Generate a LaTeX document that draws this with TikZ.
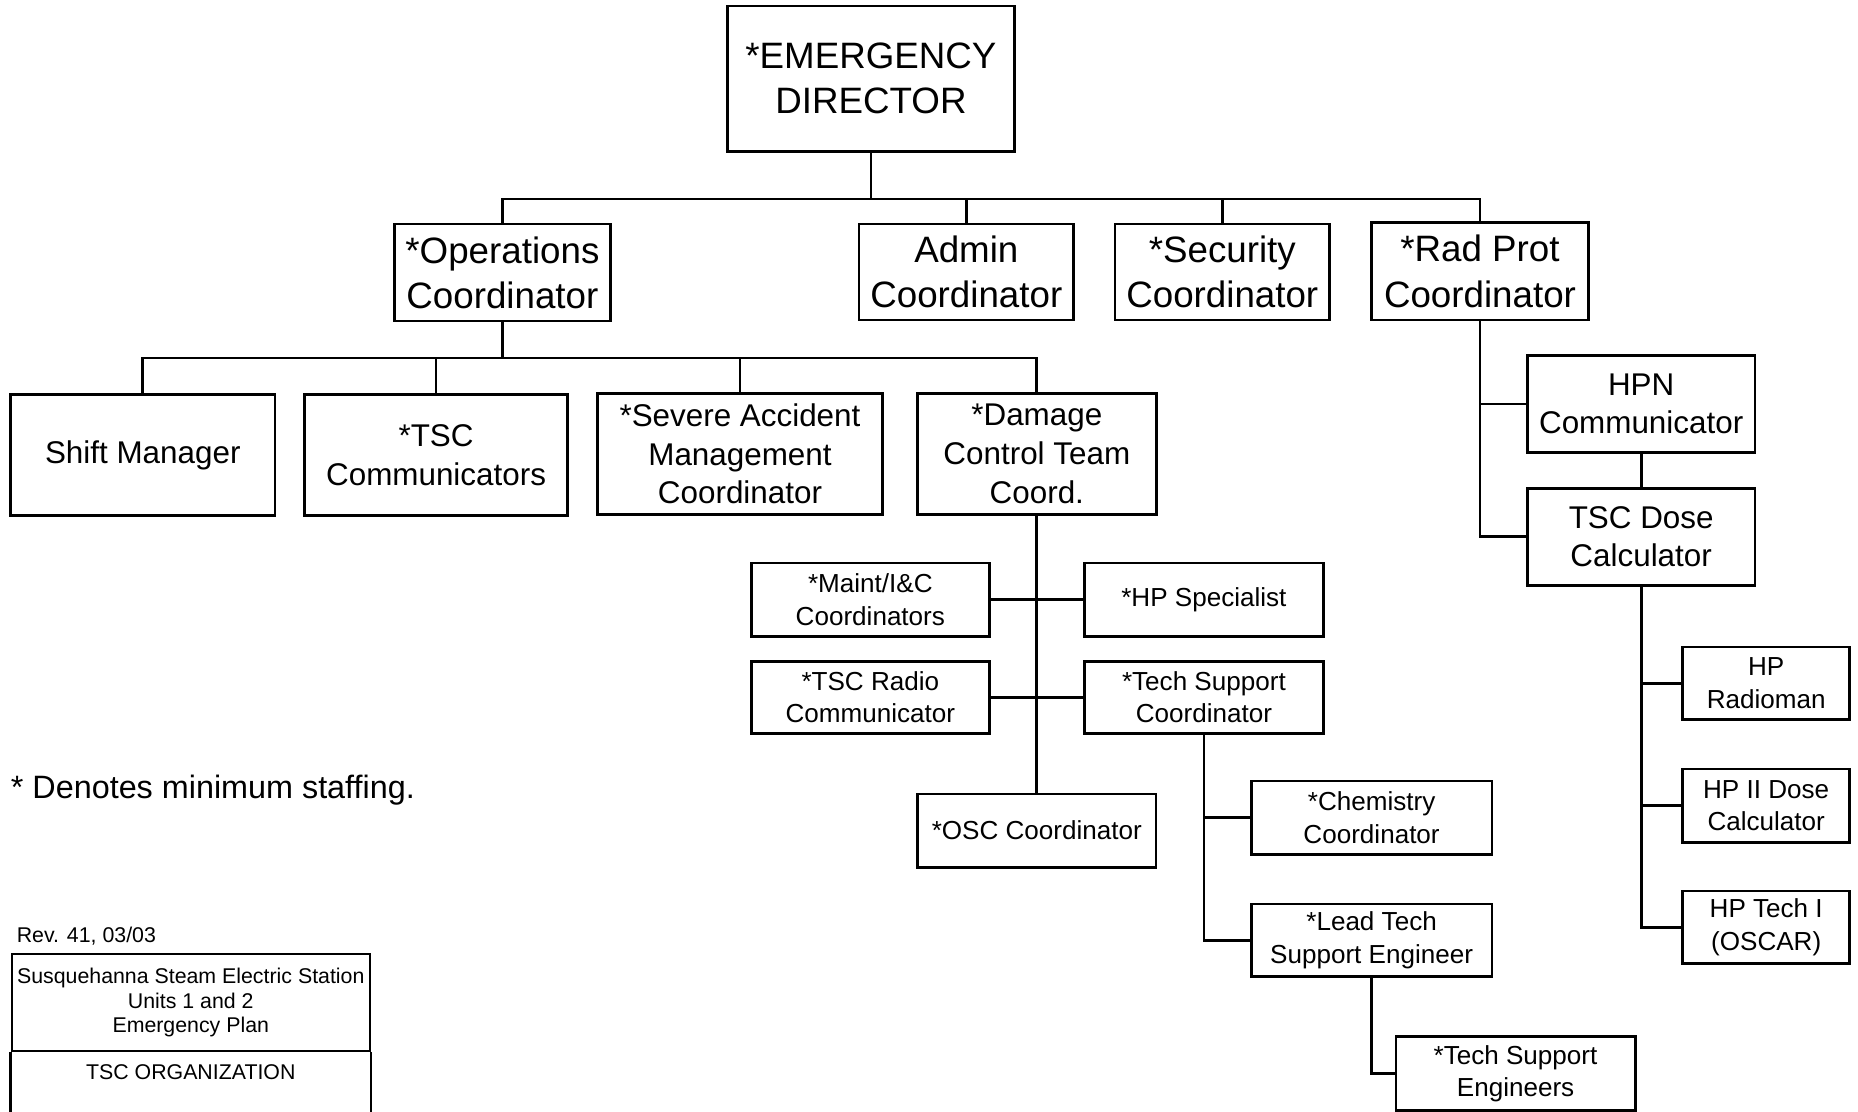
\documentclass[tikz,border=0pt]{standalone}
\usepackage{fontspec}
\setmainfont{Liberation Sans}
\begin{document}
\begin{tikzpicture}[x=1pt,y=-1pt,
  box/.style={draw, line width=2.3pt, inner sep=0pt, align=center},
  fA/.style={font=\fontsize{31}{38}\selectfont},
  fB/.style={font=\fontsize{26.5}{32.5}\selectfont},
  fN/.style={font=\fontsize{27.3}{32.5}\selectfont},
  fC/.style={font=\fontsize{22}{27.5}\selectfont},
  fT/.style={font=\fontsize{18}{21}\selectfont},
  conn/.style={line width=2.3pt}]
\useasboundingbox (0,0) rectangle (1568,938);
% level 1
\node[box,fA,minimum width=242,minimum height=123] (ed) at (735,66.5) {*EMERGENCY\\DIRECTOR};
% level 2
\node[box,fA,minimum width=182,minimum height=82] (ops) at (424,230) {*Operations\\Coordinator};
\node[box,fA,minimum width=181,minimum height=81] (admin) at (815.5,229.5) {Admin\\Coordinator};
\node[box,fA,minimum width=181,minimum height=81] (sec) at (1031.5,229.5) {*Security\\Coordinator};
\node[box,fA,minimum width=183,minimum height=82] (rad) at (1249,229) {*Rad Prot\\Coordinator};
% level 3
\node[box,fB,minimum width=223,minimum height=102] (shift) at (120.5,384) {Shift Manager};
\node[box,fB,minimum width=222,minimum height=102] (tscc) at (368,384) {*TSC\\Communicators};
\node[box,fB,minimum width=241,minimum height=102] (severe) at (624.5,383) {*Severe Accident\\Management\\Coordinator};
\node[box,fB,minimum width=202,minimum height=102] (damage) at (875,383) {*Damage\\Control Team\\Coord.};
% damage control team
\node[box,fC,minimum width=201,minimum height=62] (maint) at (734.5,506) {*Maint/I\&C\\Coordinators};
\node[box,fC,minimum width=202,minimum height=62] (hpspec) at (1016,506) {*HP Specialist};
\node[box,fC,minimum width=201,minimum height=61] (radio) at (734.5,588.5) {*TSC Radio\\Communicator};
\node[box,fC,minimum width=202,minimum height=61] (techsup) at (1016,588.5) {*Tech Support\\Coordinator};
\node[box,fC,minimum width=201,minimum height=62] (osc) at (875,701) {*OSC Coordinator};
\node[box,fC,minimum width=203,minimum height=62] (chem) at (1157.5,690) {*Chemistry\\Coordinator};
\node[box,fC,minimum width=203,minimum height=61] (lead) at (1157.5,793.5) {*Lead Tech\\Support Engineer};
\node[box,fC,minimum width=202,minimum height=62] (tse) at (1279,906) {*Tech Support\\Engineers};
% rad prot
\node[box,fB,minimum width=192,minimum height=82] (hpn) at (1385,341) {HPN\\Communicator};
\node[box,fB,minimum width=192,minimum height=82] (dose) at (1385,453) {TSC Dose\\Calculator};
\node[box,fC,minimum width=141,minimum height=61] (radioman) at (1490.5,576.5) {HP\\Radioman};
\node[box,fC,minimum width=141,minimum height=62] (hp2) at (1490.5,680) {HP II Dose\\Calculator};
\node[box,fC,minimum width=141,minimum height=61] (hptech) at (1490.5,782.5) {HP Tech I\\(OSCAR)};
% notes
\node[fN,anchor=west,inner sep=0pt] (note) at (9,667) {* Denotes minimum staffing.};
\node[fT,anchor=west,inner sep=0pt] (rev) at (14,790) {Rev. 41, 03/03};
\node[box,fT,minimum width=302,minimum height=82,line width=2pt] (title) at (161,846) {Susquehanna Steam Electric Station\\Units 1 and 2\\Emergency Plan};
\node[fT,inner sep=0pt] (org) at (161,905) {TSC ORGANIZATION};
\draw[line width=2pt] (title.south west) -- ++(0,60);
\draw[line width=2pt] (title.south east) -- ++(0,60);
% connectors
\coordinate (bus1) at (735,168);
\coordinate (bus2) at (424,302);
\draw[conn] (ed.south) -- (bus1);
\draw[conn] (ops.north) |- (bus1) -| (rad.north);
\draw[conn] (admin.north) -- (admin.north |- bus1);
\draw[conn] (sec.north) -- (sec.north |- bus1);
\draw[conn] (ops.south) -- (bus2);
\draw[conn] (shift.north) |- (bus2) -| (damage.north);
\draw[conn] (tscc.north) -- (tscc.north |- bus2);
\draw[conn] (severe.north) -- (severe.north |- bus2);
\draw[conn] (damage.south) -- (osc.north);
\draw[conn] (maint.east) -- (hpspec.west);
\draw[conn] (radio.east) -- (techsup.west);
\draw[conn] (techsup.south) |- (lead.west);
\draw[conn] (chem.west) -- (chem.west -| techsup.south);
\draw[conn] (lead.south) |- (tse.west);
\draw[conn] (rad.south) |- (dose.west);
\draw[conn] (hpn.west) -- (hpn.west -| rad.south);
\draw[conn] (hpn.south) -- (dose.north);
\draw[conn] (dose.south) |- (hptech.west);
\draw[conn] (radioman.west) -- (radioman.west -| dose.south);
\draw[conn] (hp2.west) -- (hp2.west -| dose.south);
\end{tikzpicture}
\end{document}
